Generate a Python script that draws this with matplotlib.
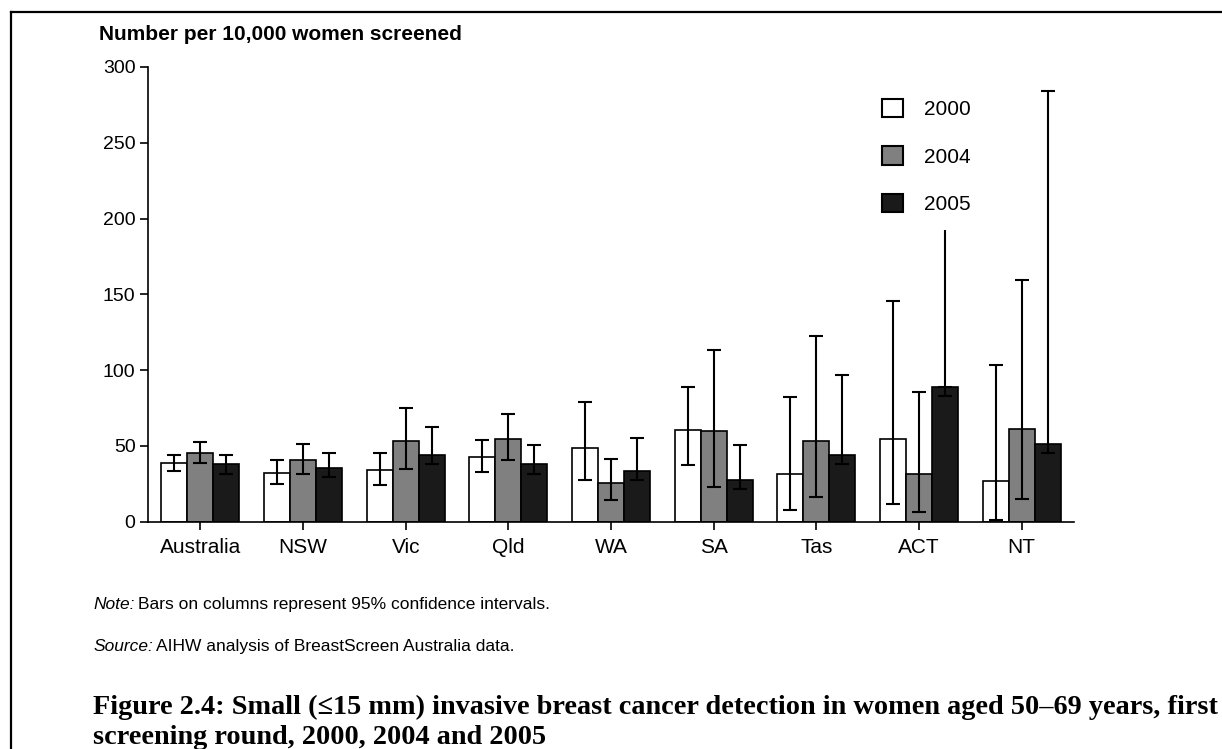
import matplotlib
matplotlib.use("Agg")
import matplotlib.pyplot as plt
import numpy as np
from matplotlib.lines import Line2D
from matplotlib.patches import Patch

plt.rcParams['font.family'] = ['Liberation Sans', 'DejaVu Sans']

# data
states = ['Australia', 'NSW', 'Vic', 'Qld', 'WA', 'SA', 'Tas', 'ACT', 'NT']
years = ['2000', '2004', '2005']

rate_2000 = [38.4, 32.2, 34.2, 42.4, 48.9, 60.3, 31.6, 54.4, 26.8]
low_2000 = [33.6, 24.8, 24.1, 32.7, 27.6, 37.7, 7.7, 11.9, 0.9]
high_2000 = [43.9, 40.8, 45.6, 53.7, 78.8, 88.6, 82.5, 145.4, 103.3]

rate_2004 = [45.4, 40.8, 53.3, 54.6, 25.7, 60.1, 53.3, 31.6, 61.2]
low_2004 = [38.8, 31.4, 34.9, 40.8, 14.3, 23.0, 16.3, 6.2, 15.1]
high_2004 = [52.4, 51.3, 74.8, 71.1, 41.4, 113.2, 122.2, 85.5, 159.5]

rate_2005 = [38.0, 35.5, 44.1, 38.0, 33.4, 27.2, 44.1, 88.6, 51.1]
low_2005 = [31.8, 29.6, 38.2, 31.4, 27.4, 21.3, 38.2, 82.7, 45.4]
high_2005 = [43.9, 45.2, 62.5, 50.5, 55.1, 50.5, 97.0, 192.4, 284.0]

colours = ['white', '#808080', '#1a1a1a']

fig = plt.figure(figsize=(12.22, 7.49), dpi=100)
ax = fig.add_axes([148 / 1222, 1 - 521.7 / 749, (1074 - 148) / 1222, (521.7 - 67) / 749])

x = np.arange(len(states))
w = 0.253
series = [(rate_2000, low_2000, high_2000),
          (rate_2004, low_2004, high_2004),
          (rate_2005, low_2005, high_2005)]

for j, (vals, lo, hi) in enumerate(series):
    pos = x + (j - 1) * w
    vals = np.array(vals)
    lo = np.array(lo)
    hi = np.array(hi)
    ax.bar(pos, vals, width=w, color=colours[j], edgecolor='black', linewidth=1.2, zorder=2)
    up = hi - vals
    if j == 2:
        # ACT 2005 upper whisker has no cap in the original
        up = up.copy()
        up[7] = 0
        ax.vlines(pos[7], vals[7], hi[7], color='black', linewidth=1.5, zorder=3)
    ax.errorbar(pos, vals, yerr=[vals - lo, up], fmt='none', ecolor='black',
                elinewidth=1.5, capsize=5, capthick=1.5, zorder=3)

ax.set_xlim(-0.51, 8.51)
ax.set_ylim(0, 300)
ax.set_yticks([0, 50, 100, 150, 200, 250, 300])
ax.set_xticks(x)
ax.set_xticklabels(states, fontsize=15)
ax.tick_params(axis='y', labelsize=14, length=6, width=1.2, pad=3)
ax.tick_params(axis='x', length=6, width=1.2, pad=6)
for s in ['top', 'right']:
    ax.spines[s].set_visible(False)
for s in ['left', 'bottom']:
    ax.spines[s].set_linewidth(1.2)

handles = [Patch(facecolor=c, edgecolor='black', linewidth=1.5) for c in colours]
ax.legend(handles, years, loc='upper left', bbox_to_anchor=(882 / 1222, 1 - 98.6 / 749),
          bbox_transform=fig.transFigure, frameon=False, fontsize=15,
          handlelength=1.0, handleheight=1.0, labelspacing=1.3, handletextpad=1.0,
          borderpad=0, borderaxespad=0)

fig.text(99 / 1222, 1 - 34 / 749, 'Number per 10,000 women screened', fontsize=15,
         fontweight='bold', ha='left', va='center')


# note and source lines with italic lead-in
def lead_line(y, lead, rest):
    t = fig.text(93 / 1222, 1 - y / 749, lead, fontsize=12.5, fontstyle='italic',
                 ha='left', va='baseline')
    fig.canvas.draw()
    bb = t.get_window_extent()
    fig.text((bb.x1 + 3) / 1222, 1 - y / 749, rest, fontsize=12.5, ha='left', va='baseline')


lead_line(609, 'Note:', 'Bars on columns represent 95% confidence intervals.')
lead_line(651, 'Source:', 'AIHW analysis of BreastScreen Australia data.')

cap_font = dict(fontsize=20.3, fontweight='bold', family=['Liberation Serif', 'DejaVu Serif'],
                ha='left', va='center')
fig.text(93 / 1222, 1 - 707 / 749,
         'Figure 2.4: Small (\u226415 mm) invasive breast cancer detection in women aged 50\u201369 years, first',
         **cap_font)
fig.text(93 / 1222, 1 - 737 / 749, 'screening round, 2000, 2004 and 2005', **cap_font)

# frame lines (top and left of the boxed figure)
fig.add_artist(Line2D([11 / 1222, 1], [1 - 12 / 749, 1 - 12 / 749], color='black', linewidth=1.6))
fig.add_artist(Line2D([11 / 1222, 11 / 1222], [0, 1 - 12 / 749], color='black', linewidth=1.6))

fig.savefig('out.png', dpi=100)
